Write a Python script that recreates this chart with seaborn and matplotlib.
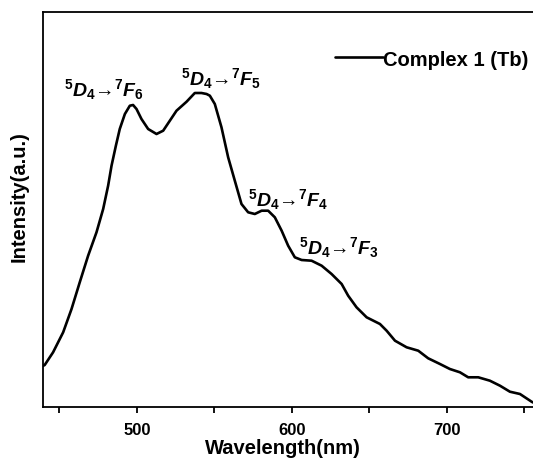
import matplotlib
matplotlib.use("Agg")
import matplotlib.pyplot as plt
import seaborn as sns
import pandas as pd

wavelength = [439.4, 440.6, 446.0, 452.5, 457.9, 463.2, 468.6, 474.0, 478.3, 481.5,
              483.7, 486.5, 489.0, 492.3, 495.5, 497.6, 499.8, 503.0, 507.3, 512.7,
              517.0, 521.3, 525.6, 532.1, 537.4, 541.7, 545.0, 547.1, 550.3, 554.6,
              558.9, 563.2, 567.5, 571.8, 576.1, 580.5, 584.7, 589.0, 593.4, 597.6,
              601.9, 606.3, 612.7, 619.2, 625.6, 632.1, 636.3, 641.7, 648.2, 656.8,
              661.1, 666.5, 674.0, 681.5, 687.9, 695.5, 701.9, 708.4, 713.7, 720.2,
              727.7, 734.2, 740.6, 747.1, 754.6, 755.5]
intensity = [41, 42, 54.7, 74.7, 98, 124.7, 151.3, 174.7, 198, 221.3,
             241.3, 261.3, 278, 293, 301.3, 302, 298, 288, 278, 273,
             276.3, 286.3, 296.3, 305.3, 314, 314, 313, 311.3, 303, 279.7,
             249.7, 226.3, 203, 194.7, 193, 196.3, 196.3, 189.7, 176.3, 161.3,
             149.7, 147, 146.3, 141.3, 133, 123, 111.3, 99.7, 89.7, 83,
             76.3, 66.3, 59.7, 56.3, 48.7, 43, 38, 34.7, 29.7, 29.7,
             26.3, 21.3, 15.3, 13, 5.3, 4.5]
series_name = "Complex 1 (Tb)"
xticks_major = [500, 600, 700]
xticks_minor = [450, 550, 650, 750]
annotations = [
    (r"${}^{5}\mathit{D}_{4}$→${}^{7}\mathit{F}_{6}$", 478.7, 318),
    (r"${}^{5}\mathit{D}_{4}$→${}^{7}\mathit{F}_{5}$", 554.2, 329),
    (r"${}^{5}\mathit{D}_{4}$→${}^{7}\mathit{F}_{4}$", 597.1, 208),
    (r"${}^{5}\mathit{D}_{4}$→${}^{7}\mathit{F}_{3}$", 630.0, 160),
]

sns.set_style("white")
plt.rcParams["font.family"] = ["Liberation Sans", "DejaVu Sans"]
plt.rcParams["font.weight"] = "bold"
plt.rcParams["text.color"] = "black"
plt.rcParams["axes.labelcolor"] = "black"
plt.rcParams["xtick.color"] = "black"
plt.rcParams["ytick.color"] = "black"
plt.rcParams["mathtext.fontset"] = "custom"
plt.rcParams["mathtext.rm"] = "Liberation Sans:bold"
plt.rcParams["mathtext.it"] = "Liberation Sans:bold:italic"
plt.rcParams["mathtext.bf"] = "Liberation Sans:bold"
plt.rcParams["mathtext.sf"] = "Liberation Sans:bold"

df = pd.DataFrame({"Wavelength": wavelength, "Intensity": intensity, "series": series_name})

fig = plt.figure(figsize=(5.33, 4.60), dpi=100)
ax = fig.add_axes([43 / 533, 52 / 460, 1 - 43 / 533, 395 / 460])
sns.lineplot(data=df, x="Wavelength", y="Intensity", hue="series",
             palette=["black"], linewidth=1.9, ax=ax,
             solid_joinstyle="round", solid_capstyle="round")

ax.set_xlim(439.5, 755.5)
ax.set_ylim(0, 395)
ax.set_xticks(xticks_major)
ax.set_xticks(xticks_minor, minor=True)
ax.set_yticks([])
ax.tick_params(axis="x", which="both", direction="out", length=4.5, width=1.3,
               bottom=True, labelsize=12, pad=6, color="black", labelcolor="black")
for lbl in ax.get_xticklabels():
    lbl.set_fontweight("bold")
for name, sp in ax.spines.items():
    sp.set_linewidth(1.3)
    sp.set_color("black")
ax.spines["right"].set_visible(False)

ax.set_xlabel("Wavelength(nm)", fontsize=14.5, fontweight="bold")
ax.set_ylabel("Intensity(a.u.)", fontsize=14.5, fontweight="bold")
ax.xaxis.set_label_coords((283 - 43) / (533 - 43), -(439 - 408) / 395)
ax.yaxis.set_label_coords(-(43 - 29) / (533 - 43), (408 - 197) / 395)

for txt, x, y in annotations:
    ax.text(x, y, txt, fontsize=14, fontweight="bold", ha="center", va="center",
            color="black")

leg = ax.legend(loc="center left", bbox_to_anchor=(335 / 533, 1 - 60 / 460),
                bbox_transform=fig.transFigure, frameon=False, fontsize=14.5,
                handlelength=2.4, handletextpad=0.0, borderpad=0, borderaxespad=0)
for t in leg.get_texts():
    t.set_fontweight("bold")
    t.set_color("black")

fig.savefig("out.png", dpi=100)
